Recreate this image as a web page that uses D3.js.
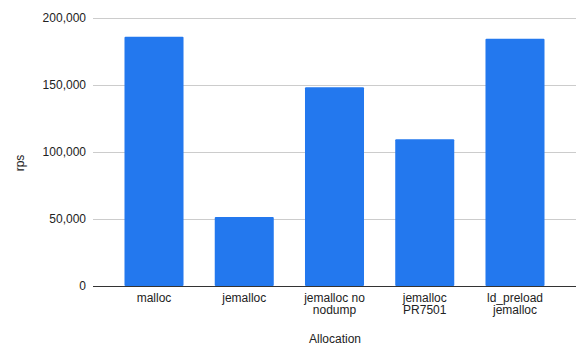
<!DOCTYPE html>
<html>
<head>
<meta charset="utf-8">
<script src="https://cdn.jsdelivr.net/npm/d3@7"></script>
<style>
  body { margin: 0; background: #fff; }
  svg text { font-family: Arial, "Liberation Sans", sans-serif; fill: #222; }
</style>
</head>
<body>
<div class="chart"></div>
<script>
// chart data
const categories = ['malloc', 'jemalloc', 'jemalloc no nodump', 'jemalloc PR7501', 'ld_preload jemalloc']
const labelLines = [['malloc'], ['jemalloc'], ['jemalloc no', 'nodump'], ['jemalloc', 'PR7501'], ['ld_preload', 'jemalloc']]
const rps = [186000, 51500, 148300, 109500, 184500]
const yTicks = [0, 50000, 100000, 150000, 200000]

const width = 587
const height = 358
const margin = {top: 18, right: 11, bottom: 72, left: 93}

let svg = d3.select('.chart').append('svg')
.attr('width', width)
.attr('height', height)

let x = d3.scaleBand()
.domain(categories)
.range([margin.left, width - margin.right])
.paddingInner(0.346)
.paddingOuter(0.349)

let y = d3.scaleLinear()
.domain([0, 200000])
.range([height - margin.bottom, margin.top])

// gridlines
svg.append('g')
.selectAll('line')
.data(yTicks.filter(d => d > 0))
.enter()
.append('line')
.attr('x1', margin.left)
.attr('x2', width - margin.right)
.attr('y1', d => Math.round(y(d)) + 0.5)
.attr('y2', d => Math.round(y(d)) + 0.5)
.attr('stroke', '#cccccc')
.attr('stroke-width', 1)

// y tick labels
svg.append('g')
.selectAll('text')
.data(yTicks)
.enter()
.append('text')
.attr('x', margin.left - 7)
.attr('y', d => y(d) + 4)
.attr('text-anchor', 'end')
.attr('font-size', '12px')
.text(d => d3.format(',')(d))

// bars
svg.append('g')
.selectAll('rect')
.data(rps)
.enter()
.append('rect')
.attr('x', (d, i) => x(categories[i]))
.attr('y', d => y(d))
.attr('width', x.bandwidth())
.attr('height', d => y(0) - y(d))
.attr('rx', 1)
.attr('fill', '#2378ee')

// baseline
svg.append('line')
.attr('x1', margin.left)
.attr('x2', width - margin.right)
.attr('y1', Math.round(y(0)) + 0.5)
.attr('y2', Math.round(y(0)) + 0.5)
.attr('stroke', '#333333')
.attr('stroke-width', 1)

// category labels
let xl = svg.append('g')
.selectAll('text')
.data(labelLines)
.enter()
.append('text')
.attr('text-anchor', 'middle')
.attr('font-size', '12px')
.attr('transform', (d, i) => `translate(${x(categories[i]) + x.bandwidth() / 2},${y(0) + 16})`)

xl.selectAll('tspan')
.data(d => d)
.enter()
.append('tspan')
.attr('x', 0)
.attr('y', (d, i) => i * 12)
.text(d => d)

// axis titles
svg.append('text')
.attr('x', (margin.left + width - margin.right) / 2 + 0.5)
.attr('y', 343)
.attr('text-anchor', 'middle')
.attr('font-size', '12px')
.text('Allocation')

svg.append('text')
.attr('transform', 'translate(24,163) rotate(-90)')
.attr('text-anchor', 'middle')
.attr('font-size', '12px')
.text('rps')
</script>
</body>
</html>
